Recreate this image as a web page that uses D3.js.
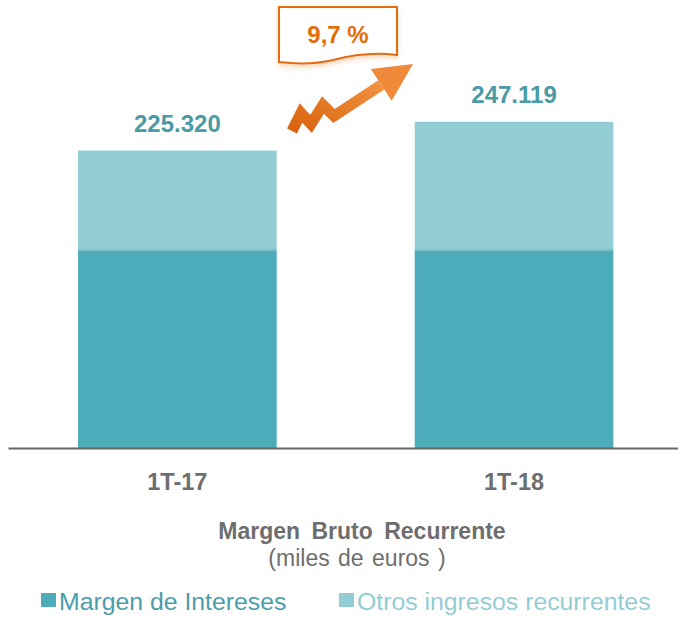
<!DOCTYPE html>
<html>
<head>
<meta charset="utf-8">
<script src="https://cdn.jsdelivr.net/npm/d3@7"></script>
<style>
  body { margin: 0; background: #fff; }
  svg { font-family: "Liberation Sans", Arial, sans-serif; }
</style>
</head>
<body>
<div id="chart"></div>
<script>
// values in miles de euros
const categories = ["1T-17", "1T-18"];
const margenIntereses = [149800, 149800];
const otrosIngresos = [75520, 97319];
const seriesNames = ["Margen de Intereses", "Otros ingresos recurrentes"];
const growthLabel = "9,7 %";
const chartTitle = "Margen Bruto Recurrente";
const chartSubtitle = "(miles de euros )";

const width = 678, height = 617;
const colors = ["#4cacb9", "#93cdd4"];
const textColors = ["#4a9ea9", "#93cdd4"];
const gray = "#6e6e6e";

const es = d3.formatLocale({ decimal: ",", thousands: ".", grouping: [3], currency: ["", "€"] });
const fmt = es.format(",d");

const rows = categories.map((c, i) => ({
  cat: c,
  margen: margenIntereses[i],
  otros: otrosIngresos[i]
}));

const svg = d3.select("#chart").append("svg")
  .attr("width", width)
  .attr("height", height);

const x = d3.scaleBand()
  .domain(categories)
  .range([8, 678])
  .paddingInner(0.41)
  .paddingOuter(0.2)
  .align(0.52);

const y = d3.scaleLinear().domain([0, 250000]).range([448, 118]);

const stack = d3.stack().keys(["margen", "otros"]);
const layers = stack(rows);

svg.append("g")
  .selectAll("g")
  .data(layers)
  .join("g")
  .attr("fill", (d, i) => colors[i])
  .selectAll("rect")
  .data(d => d)
  .join("rect")
  .attr("x", d => x(d.data.cat))
  .attr("width", x.bandwidth())
  .attr("y", d => y(d[1]))
  .attr("height", d => y(d[0]) - y(d[1]));

// thin light edge between the two parts
svg.append("g")
  .selectAll("line")
  .data(rows)
  .join("line")
  .attr("x1", d => x(d.cat))
  .attr("x2", d => x(d.cat) + x.bandwidth())
  .attr("y1", d => y(d.margen) - 0.5)
  .attr("y2", d => y(d.margen) - 0.5)
  .attr("stroke", "#74bcc6")
  .attr("stroke-width", 1);

// totals
svg.append("g")
  .selectAll("text")
  .data(rows)
  .join("text")
  .attr("x", d => x(d.cat) + x.bandwidth() / 2)
  .attr("y", d => y(d.margen + d.otros) - 19)
  .attr("text-anchor", "middle")
  .attr("font-size", 24)
  .attr("font-weight", "bold")
  .attr("fill", "#4a9ba5")
  .text(d => fmt(d.margen + d.otros));

// axis
const axis = svg.append("g")
  .attr("transform", "translate(0,448)")
  .call(d3.axisBottom(x).tickSize(0).tickSizeOuter(0).tickPadding(25));
axis.select(".domain").attr("stroke", "#666").attr("stroke-width", 2);
axis.selectAll("text")
  .attr("font-size", 23.5)
  .attr("font-weight", "bold")
  .attr("font-family", "Liberation Sans, Arial, sans-serif")
  .attr("fill", gray);

// title
svg.append("text")
  .attr("x", 362)
  .attr("y", 539)
  .attr("text-anchor", "middle")
  .attr("font-size", 23)
  .attr("font-weight", "bold")
  .attr("word-spacing", 5)
  .attr("fill", gray)
  .text(chartTitle);

svg.append("text")
  .attr("x", 357)
  .attr("y", 566)
  .attr("text-anchor", "middle")
  .attr("font-size", 23)
  .attr("word-spacing", 2)
  .attr("fill", gray)
  .text(chartSubtitle);

// legend
const legendX = [41, 339];
const legend = svg.append("g")
  .selectAll("g")
  .data(seriesNames)
  .join("g")
  .attr("transform", (d, i) => `translate(${legendX[i]},593)`);
legend.append("rect")
  .attr("width", 15)
  .attr("height", 14)
  .attr("fill", (d, i) => colors[i]);
legend.append("text")
  .attr("x", 18)
  .attr("y", 17)
  .attr("font-size", 24.8)
  .attr("fill", (d, i) => textColors[i])
  .text(d => d);

// growth arrow
const defs = svg.append("defs");
const grad = defs.append("linearGradient")
  .attr("id", "arrowGrad")
  .attr("x1", "0").attr("y1", "1").attr("x2", "1").attr("y2", "0");
grad.append("stop").attr("offset", "0%").attr("stop-color", "#d9620f");
grad.append("stop").attr("offset", "100%").attr("stop-color", "#f0923f");

const shadow = defs.append("filter").attr("id", "boxShadow")
  .attr("x", "-10%").attr("y", "-10%").attr("width", "120%").attr("height", "140%");
shadow.append("feDropShadow")
  .attr("dx", 0).attr("dy", 3).attr("stdDeviation", 2.5)
  .attr("flood-color", "#f2b27f").attr("flood-opacity", 0.5);

const zig = [[292, 131], [301, 113], [311, 124], [323, 105], [334, 116]];
const tip = [413, 64];
const last = zig[zig.length - 1];
const len = Math.hypot(tip[0] - last[0], tip[1] - last[1]);
const ux = (tip[0] - last[0]) / len, uy = (tip[1] - last[1]) / len;
const headLen = 38, headHalf = 19;
const base = [tip[0] - ux * headLen, tip[1] - uy * headLen];

svg.append("path")
  .attr("d", d3.line()(zig.concat([base])))
  .attr("fill", "none")
  .attr("stroke", "url(#arrowGrad)")
  .attr("stroke-width", 11)
  .attr("stroke-linejoin", "miter");

svg.append("path")
  .attr("d", d3.line()([
    [base[0] - uy * headHalf, base[1] + ux * headHalf],
    tip,
    [base[0] + uy * headHalf, base[1] - ux * headHalf]
  ]) + "Z")
  .attr("fill", "#ef8a3a");

// label box with wavy bottom
svg.append("path")
  .attr("d", "M279,7 H397 V55 C375,52 352,55 333,60 C312,65 295,64 279,62 Z")
  .attr("fill", "#fff")
  .attr("stroke", "#e46c0a")
  .attr("stroke-width", 2)
  .attr("filter", "url(#boxShadow)");

svg.append("text")
  .attr("x", 338)
  .attr("y", 43)
  .attr("text-anchor", "middle")
  .attr("font-size", 24)
  .attr("font-weight", "bold")
  .attr("fill", "#e46c0a")
  .text(growthLabel);
</script>
</body>
</html>
